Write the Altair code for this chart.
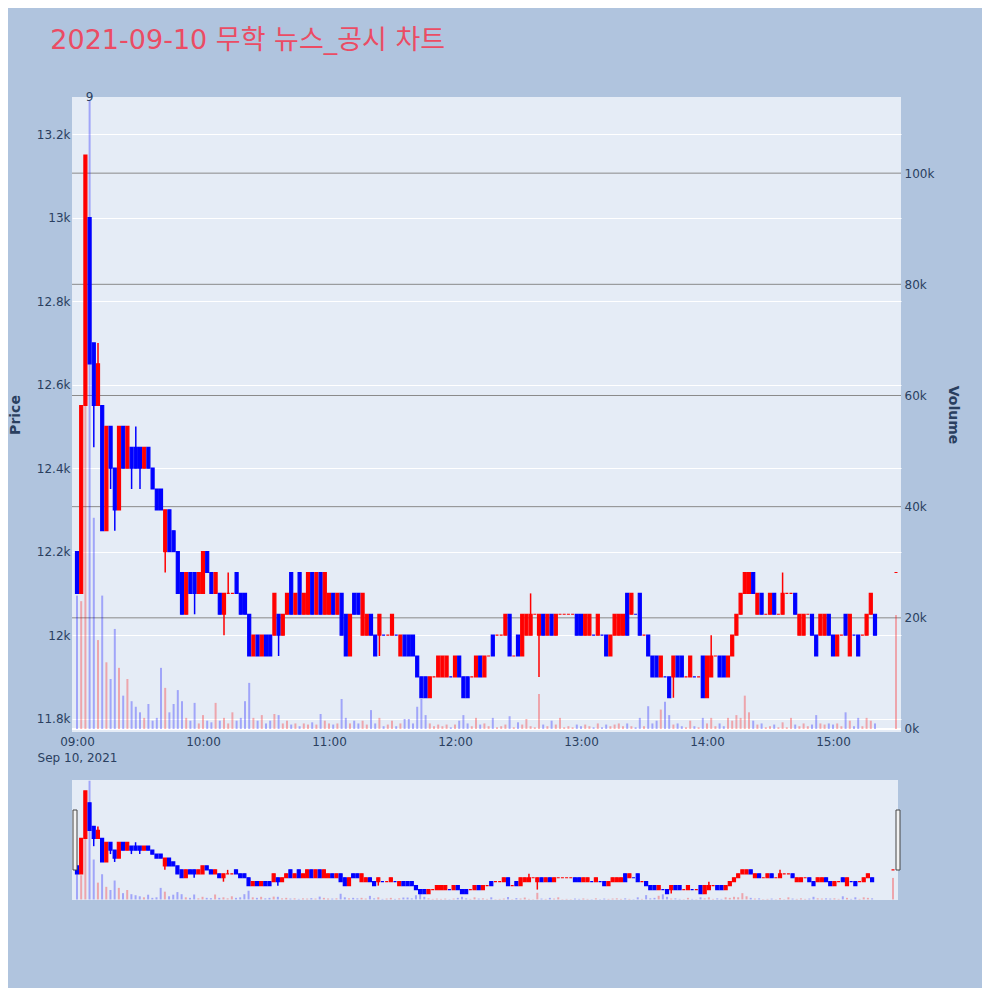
import altair as alt
import pandas as pd

title_text = "2021-09-10 무학 뉴스_공시 차트"

# 2-minute candles from 09:00, plus the closing print at 15:30
opens = [12200,12100,12550,13000,12700,12550,12550,12250,12500,12400,
         12300,12500,12400,12450,12450,12450,12400,12450,12400,12350,
         12350,12200,12300,12250,12200,12150,12050,12150,12150,12100,
         12100,12200,12150,12100,12100,12050,12100,12100,12150,12100,
         12100,12050,11950,12000,11950,12000,12000,12000,12050,12000,
         12050,12150,12050,12150,12050,12050,12150,12050,12150,12050,
         12050,12100,12050,12100,12050,11950,12100,12100,12000,12000,
         12050,12000,12000,12000,12000,12000,12000,11950,12000,12000,
         12000,11950,11900,11900,11850,11900,11900,11900,11900,11900,
         11900,11950,11900,11900,11900,11900,11950,11900,11950,12000,
         12000,12000,12000,12050,11950,12000,11950,12000,12000,12050,
         12000,12050,12000,12050,12000,12050,12050,12050,12050,12050,
         12050,12000,12000,12000,12000,12000,12000,11950,12000,12000,
         12000,12100,12050,12050,12100,12000,12000,11950,11950,11900,
         11900,11900,11900,11950,11950,11900,11900,11900,11900,11950,
         11850,11900,11950,11950,11950,11900,11950,12000,12050,12100,
         12100,12150,12050,12100,12050,12050,12100,12050,12050,12100,
         12100,12100,12000,12000,12050,12050,12000,12000,12000,12050,
         12000,11950,12000,12050,11950,12000,12000,12000,12000,12050,
         12050,12150]
highs = [12200,12550,13150,13000,12700,12700,12550,12500,12500,12400,
         12500,12500,12500,12450,12500,12450,12450,12450,12400,12350,
         12350,12300,12300,12250,12200,12150,12150,12150,12150,12150,
         12200,12200,12150,12150,12100,12100,12150,12100,12150,12100,
         12100,12050,12000,12000,12000,12000,12000,12100,12050,12050,
         12100,12150,12100,12150,12100,12150,12150,12150,12150,12150,
         12100,12100,12100,12100,12050,12050,12100,12100,12100,12050,
         12050,12000,12050,12000,12000,12050,12000,12000,12000,12000,
         12000,11950,11900,11900,11900,11900,11950,11950,11950,11900,
         11950,11950,11900,11900,11900,11950,11950,11950,11950,12000,
         12000,12000,12050,12050,11950,12000,12050,12050,12100,12050,
         12050,12050,12050,12050,12050,12050,12050,12050,12050,12050,
         12050,12050,12050,12000,12050,12000,12000,12000,12050,12050,
         12050,12100,12100,12050,12100,12000,12000,11950,11950,11950,
         11900,11900,11950,11950,11950,11900,11950,11900,11900,11950,
         11950,12000,11950,11950,11950,11950,12000,12050,12100,12150,
         12150,12150,12100,12100,12050,12100,12100,12050,12150,12100,
         12100,12100,12050,12050,12050,12050,12000,12050,12050,12050,
         12000,12000,12000,12050,12050,12000,12000,12000,12050,12100,
         12050,12150]
lows = [12100,12100,12550,12650,12450,12550,12250,12250,12350,12250,
        12300,12400,12400,12350,12400,12350,12400,12400,12350,12300,
        12300,12150,12200,12200,12100,12050,12050,12100,12050,12100,
        12100,12150,12100,12100,12050,12000,12100,12100,12100,12050,
        12050,11950,11950,11950,11950,11950,11950,12000,11950,12000,
        12050,12050,12050,12050,12050,12050,12050,12050,12050,12050,
        12050,12050,12050,12000,11950,11950,12050,12050,12000,12000,
        12000,11950,11950,12000,12000,12000,12000,11950,11950,11950,
        11950,11900,11850,11850,11850,11900,11900,11900,11900,11900,
        11900,11900,11850,11850,11900,11900,11900,11900,11950,11950,
        12000,12000,12000,11950,11950,11950,11950,12000,12000,12050,
        11900,12000,12000,12000,12000,12050,12050,12050,12050,12000,
        12000,12000,12000,12000,12000,12000,11950,11950,12000,12000,
        12000,12000,12050,12050,12000,12000,11950,11900,11900,11900,
        11900,11850,11850,11900,11900,11900,11900,11900,11900,11850,
        11850,11900,11950,11900,11900,11900,11950,12000,12050,12100,
        12100,12100,12050,12050,12050,12050,12050,12050,12050,12100,
        12100,12050,12000,12000,12050,12000,11950,12000,12000,12000,
        11950,11950,12000,12000,11950,12000,11950,12000,12000,12050,
        12000,12150]
closes = [12100,12550,13150,12650,12550,12650,12250,12500,12400,12300,
          12500,12400,12500,12400,12400,12400,12450,12400,12350,12300,
          12300,12300,12200,12200,12100,12050,12150,12100,12100,12150,
          12200,12150,12100,12150,12050,12100,12100,12100,12100,12050,
          12050,11950,12000,11950,12000,11950,11950,12100,12000,12050,
          12100,12050,12100,12050,12100,12150,12050,12150,12050,12150,
          12100,12050,12100,12000,11950,12050,12050,12050,12100,12050,
          12000,11950,12050,12000,12000,12050,12000,12000,11950,11950,
          11950,11900,11850,11850,11900,11900,11950,11950,11950,11900,
          11950,11900,11850,11850,11900,11950,11900,11950,11950,11950,
          12000,12000,12050,11950,11950,11950,12050,12050,12050,12050,
          12050,12000,12050,12000,12050,12050,12050,12050,12050,12000,
          12000,12050,12050,12000,12050,12000,11950,12000,12050,12050,
          12050,12000,12100,12050,12000,12000,11950,11900,11900,11950,
          11900,11850,11950,11900,11900,11900,11950,11900,11900,11850,
          11950,11950,11950,11900,11900,11950,12000,12050,12100,12150,
          12150,12100,12100,12050,12050,12100,12050,12050,12100,12100,
          12100,12050,12050,12050,12050,12000,11950,12050,12050,12000,
          11950,12000,12000,12000,12050,12000,11950,12000,12050,12100,
          12000,12150]
volumes = [24000,23000,103000,113000,38000,16000,24000,12000,9000,18000,
           11000,6000,9000,5000,4000,3000,2000,4500,1500,2000,
           11000,7400,3000,4500,7000,5000,2000,1500,4700,1000,
           2500,1500,1200,4700,1500,2000,1000,3000,1500,2000,
           5000,8300,2000,1500,2500,1000,1500,2700,2500,1000,
           1500,800,1000,500,1000,800,1200,800,2700,1500,
           1000,800,1000,5400,2000,1000,1500,1000,1500,800,
           3400,1000,2000,500,800,1500,500,1000,1800,1800,
           1000,4000,5400,2500,1000,500,800,500,800,300,
           800,1500,2500,1000,500,2000,800,1000,500,2000,
           300,500,800,2300,300,1200,800,1800,500,300,
           6300,800,500,1500,800,2000,300,500,300,800,
           500,800,500,300,1000,300,800,500,800,1000,
           500,1000,500,300,2000,500,4100,1000,1500,3500,
           4900,2500,800,1000,500,300,1500,500,300,2000,
           1000,2000,500,1000,500,2000,1500,2500,2000,6000,
           3000,1500,800,1000,300,500,800,300,1200,300,
           2000,800,500,1000,500,800,2500,1000,800,1000,
           800,1000,500,3000,1500,500,2000,500,2000,1500,
           1000,20500]
times = [pd.Timestamp("2021-09-10 09:00") + pd.Timedelta(minutes=2 * i) for i in range(191)]
times.append(pd.Timestamp("2021-09-10 15:30"))

note_text = ["9"]
price_ticks = [11800, 12000, 12200, 12400, 12600, 12800, 13000, 13200]
volume_grid = [20000, 40000, 60000, 80000, 100000]
volume_ticks = [0, 20000, 40000, 60000, 80000, 100000]

dirs = []
prev = None
for o, c in zip(opens, closes):
    if c > o:
        d = "up"
    elif c < o:
        d = "down"
    else:
        d = "up" if (prev is None or c >= prev) else "down"
    dirs.append(d)
    prev = c

df = pd.DataFrame({
    "t": [t.strftime("%Y-%m-%dT%H:%M:%S") for t in times],
    "open": opens, "high": highs, "low": lows, "close": closes,
    "vol": volumes, "dir": dirs,
})
peak = df.loc[df["vol"].idxmax()]
note_df = pd.DataFrame({"t": [peak["t"]], "label": note_text})
grid_df = pd.DataFrame({"v": volume_grid})
zero_df = pd.DataFrame({"v": [0]})

FONT = "DejaVu Sans"
TXT = "#2a3f5f"
x_scale = alt.Scale(domain=[alt.DateTime(year=2021, month=9, date=10, hours=8, minutes=57, seconds=37),
                            alt.DateTime(year=2021, month=9, date=10, hours=15, minutes=32, seconds=23)],
                    padding=0, nice=False)
p_scale = alt.Scale(domain=[11768, 13289], nice=False, zero=False)
v_scale = alt.Scale(domain=[-540, 113700], nice=False, zero=False)
c_scale = alt.Scale(domain=["up", "down"], range=["#FF0000", "#0000FF"])

x_axis = alt.Axis(
    values=[alt.DateTime(year=2021, month=9, date=10, hours=h) for h in range(9, 16)],
    labelExpr="datum.index == 0 ? ['09:00', 'Sep 10, 2021'] : timeFormat(datum.value, '%H:%M')",
    labelFlush=False, labelOverlap=False, grid=False, ticks=False, domain=False,
    labelPadding=4, labelLineHeight=16, title=None,
)


def layers(height, width, show):
    base = alt.Chart(df)
    xx = alt.X("t:T", scale=x_scale, axis=x_axis if show else None, title=None)
    p_axis = alt.Axis(orient="left", values=price_ticks, format="~s", grid=show, gridColor="#ffffff",
                      gridWidth=1, ticks=False, domain=False, labelPadding=2, labelOverlap=False,
                      titlePadding=14, titleFontWeight="bold", titleFontSize=14,
                      labelColor=TXT if show else "transparent",
                      titleColor=TXT if show else "transparent")
    col = alt.Color("dir:N", scale=c_scale, legend=None)
    stk = alt.Stroke("dir:N", scale=c_scale, legend=None)
    wick = base.mark_rule(strokeWidth=1.5).encode(
        x=xx, y=alt.Y("low:Q", scale=p_scale, axis=p_axis, title="Price"), y2="high:Q", color=col)
    body = base.mark_bar(size=3, strokeWidth=1.2).encode(
        x=xx, y=alt.Y("open:Q", scale=p_scale, axis=p_axis, title="Price"), y2="close:Q",
        color=col, stroke=stk)
    v_axis = alt.Axis(
        orient="right", values=volume_ticks, format="~s", ticks=False, domain=False, grid=False,
        labelPadding=3, titlePadding=12, titleFontWeight="bold", titleFontSize=14,
        labelColor=TXT, titleColor=TXT,
    ) if show else None
    vol = base.mark_bar(size=2, opacity=0.3).encode(
        x=xx, y=alt.Y("vol:Q", scale=v_scale, axis=v_axis, title="Volume"), color=col)
    price_layer = [wick, body]
    if show:
        txt = alt.Chart(note_df).mark_text(font=FONT, fontSize=12, color=TXT, baseline="middle").encode(
            x=alt.X("t:T", scale=x_scale), y=alt.value(0), text="label:N")
        price_layer.append(txt)
        vgrid = alt.Chart(grid_df).mark_rule(color="#8a8a8a", strokeWidth=1).encode(
            y=alt.Y("v:Q", scale=v_scale, axis=None))
        vzero = alt.Chart(zero_df).mark_rule(color="#ffffff", strokeWidth=2).encode(
            y=alt.Y("v:Q", scale=v_scale, axis=None))
        ch = alt.layer(alt.layer(vgrid, vzero), alt.layer(*price_layer), vol).resolve_scale(y="independent")
    else:
        ch = alt.layer(alt.layer(*price_layer), vol).resolve_scale(y="independent")
    return ch.properties(width=width, height=height)


main = layers(635, 829, True)

handle_df = pd.DataFrame({"h": [0]})
h_left = alt.Chart(handle_df).mark_rect(fill="#f2f2f2", stroke="#444444", strokeWidth=1).encode(
    x=alt.value(1), x2=alt.value(5), y=alt.value(30), y2=alt.value(90))
h_right = alt.Chart(handle_df).mark_rect(fill="#f2f2f2", stroke="#444444", strokeWidth=1).encode(
    x=alt.value(824), x2=alt.value(828), y=alt.value(30), y2=alt.value(90))
slider = alt.layer(layers(120, 826, False), h_left, h_right).properties(width=826, height=120)

chart = alt.vconcat(main, slider, spacing=17).properties(
    padding={"left": 0, "top": 19, "right": 22, "bottom": 84},
    background="#B0C4DE",
    title=alt.Title(title_text, anchor="start", fontSize=27, font=FONT + ", Noto Sans CJK KR",
                    fontWeight="normal", color="#EB4C64", dx=42, offset=36),
).configure_view(fill="#E5ECF6", stroke=None).configure_axis(
    labelFont=FONT, titleFont=FONT, labelFontSize=12, labelColor=TXT, titleColor=TXT
)

chart.save("out.html", embed_options={"renderer": "svg", "actions": False})
